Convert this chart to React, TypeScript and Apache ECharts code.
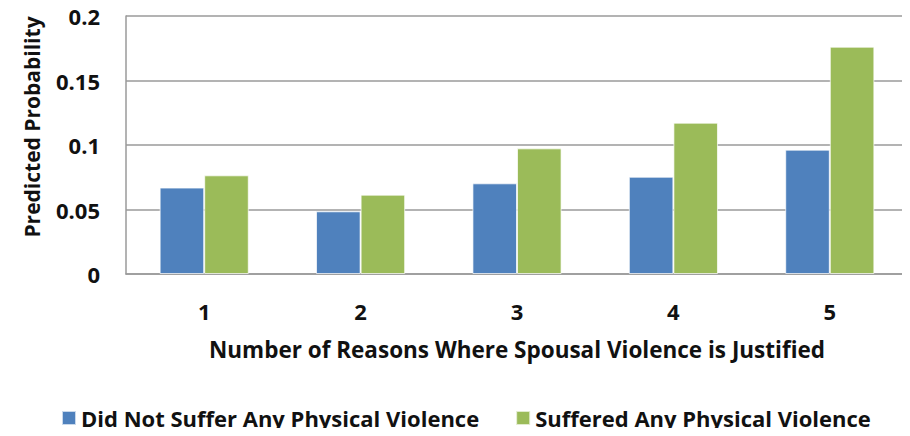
import React, { useEffect, useRef } from "react";
import * as echarts from "echarts";

const categories = ["1", "2", "3", "4", "5"];
const notSuffered = [0.067, 0.0486, 0.0703, 0.0754, 0.0964];
const suffered = [0.0765, 0.0615, 0.0974, 0.1173, 0.1762];
const seriesNames = ["Did Not Suffer Any Physical Violence", "Suffered Any Physical Violence"];
const yTicks = [0, 0.05, 0.1, 0.15, 0.2];

const FONT = "'Open Sans', 'Noto Sans', sans-serif";

export default function App() {
  const ref = useRef<HTMLDivElement>(null);
  useEffect(() => {
    if (!ref.current) return;
    const chart = echarts.init(ref.current, undefined, { renderer: "svg" });
    chart.setOption({
      animation: false,
      textStyle: { fontFamily: FONT },
      grid: { left: 126, right: 2, top: 16, bottom: 162, containLabel: false },
      legend: {
        bottom: 2,
        left: 56,
        itemWidth: 14,
        itemHeight: 14,
        itemGap: 36,
        icon: "rect",
        textStyle: { fontSize: 22, fontWeight: "bold", color: "#111", fontFamily: FONT },
        data: seriesNames,
      },
      xAxis: {
        type: "category",
        data: categories,
        name: "Number of Reasons Where Spousal Violence is Justified",
        nameLocation: "middle",
        nameGap: 64,
        nameTextStyle: { fontSize: 22.5, fontWeight: "bold", color: "#111" },
        axisLine: { show: true, lineStyle: { color: "#9a9a9a", width: 1.5 } },
        axisTick: { show: false },
        axisLabel: { fontSize: 22, fontWeight: "bold", color: "#111", margin: 26 },
      },
      yAxis: {
        type: "value",
        min: yTicks[0],
        max: yTicks[yTicks.length - 1],
        interval: 0.05,
        axisLine: { show: true, lineStyle: { color: "#9a9a9a", width: 1.5 } },
        axisTick: { show: false },
        splitLine: { show: true, lineStyle: { color: "#9a9a9a", width: 1.5 } },
        axisLabel: {
          fontSize: 22,
          fontWeight: "bold",
          color: "#111",
          margin: 26,
          formatter: (v: number) => String(Math.round(v * 100) / 100),
        },
      },
      graphic: [
        {
          type: "text",
          x: 32,
          y: 127,
          rotation: Math.PI / 2,
          style: {
            text: "Predicted Probability",
            fontSize: 21,
            fontWeight: "bold",
            fill: "#111",
            fontFamily: FONT,
            align: "center",
            verticalAlign: "middle",
          },
        },
      ],
      series: [
        {
          name: seriesNames[0],
          type: "bar",
          data: notSuffered,
          barGap: "0%",
          barCategoryGap: "43%",
          itemStyle: { color: "#4F81BD", borderColor: "rgba(255,255,255,0.7)", borderWidth: 1 },
        },
        {
          name: seriesNames[1],
          type: "bar",
          data: suffered,
          itemStyle: { color: "#9BBB59", borderColor: "rgba(255,255,255,0.7)", borderWidth: 1 },
        },
      ],
    });
    return () => chart.dispose();
  }, []);
  return <div ref={ref} style={{ width: 910, height: 436, margin: -8 }} />;
}
